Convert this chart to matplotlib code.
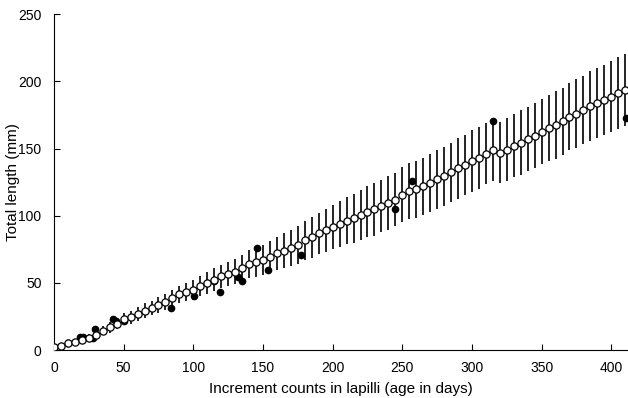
import numpy as np
import matplotlib
matplotlib.use('Agg')
import matplotlib.pyplot as plt

plt.rcParams['font.family'] = ['Liberation Sans', 'DejaVu Sans']

# model back-calculated growth: age (days), mean length (mm), half range of bar (mm)
age_model = np.arange(0, 411, 5)
mean_len = [2.5, 3.2, 5.0, 6.0, 7.4, 8.7, 11.4, 14.4, 16.9, 19.6,
            22.8, 24.3, 26.8, 29.2, 31.3, 33.5, 35.9, 38.5, 41.4, 43.2,
            44.6, 47.5, 49.8, 52.5, 54.8, 56.8, 58.3, 61.0, 64.0, 65.7,
            67.0, 69.4, 71.9, 73.9, 76.1, 78.1, 81.8, 83.8, 86.8, 89.3,
            91.7, 93.8, 96.2, 98.0, 100.4, 102.9, 104.7, 107.2, 109.6, 112.0,
            115.5, 118.4, 119.6, 121.8, 124.5, 127.0, 129.5, 132.4, 135.2, 137.9,
            140.9, 143.1, 146.3, 149.0, 147.0, 149.3, 152.0, 154.5, 157.0, 159.7,
            162.7, 165.2, 167.6, 170.4, 173.6, 176.1, 178.8, 181.8, 184.0, 186.0,
            188.5, 191.4, 193.5]
half_bar = [1.0, 1.5, 2.0, 2.0, 2.5, 3.0, 3.5, 3.5, 4.0, 4.0,
            4.5, 5.0, 5.0, 5.5, 5.5, 6.0, 6.0, 6.0, 6.5, 7.0,
            7.5, 7.5, 8.0, 8.5, 8.5, 9.0, 9.5, 10.0, 10.5, 11.0,
            11.5, 12.0, 12.5, 13.0, 13.5, 14.0, 14.5, 15.0, 15.5, 16.0,
            16.5, 17.0, 17.5, 18.0, 18.5, 19.0, 19.5, 19.5, 20.0, 20.0,
            20.5, 21.0, 21.0, 21.5, 21.5, 22.0, 22.0, 22.0, 22.5, 22.5,
            23.0, 23.0, 23.0, 23.0, 23.0, 23.5, 23.5, 24.0, 24.0, 24.0,
            24.5, 24.5, 25.0, 25.0, 25.0, 25.5, 25.5, 26.0, 26.0, 26.0,
            26.5, 26.5, 27.0]

# observed fish
age_obs = [10, 18.6, 20.5, 28.2, 29.4, 42.5, 44.5, 50.4, 84.2, 100.7,
           109.5, 115, 119, 132, 134.6, 145.8, 153.5, 177, 245, 256.7,
           315, 410.8]
len_obs = [5.0, 9.4, 9.4, 8.7, 15.4, 22.8, 21.8, 21.8, 31.2, 40.2,
           49.6, 51.6, 43.2, 54.5, 51.6, 75.7, 59.8, 70.7, 105.1, 125.7,
           170.6, 172.4]

fig = plt.figure(figsize=(6.28, 3.98), dpi=100)
ax = fig.add_axes([0.086, 0.1206, 0.914, 0.8435])

ax.errorbar(age_model, mean_len, yerr=half_bar, fmt='none', ecolor='black',
            elinewidth=1.2, capsize=0, zorder=2)
ax.plot(age_obs, len_obs, 'o', color='black', markersize=4.5, zorder=3)
ax.plot(age_model, mean_len, 'o', markerfacecolor='white', markeredgecolor='black',
        markeredgewidth=0.9, markersize=5.2, zorder=4)

ax.set_xlim(0, 412)
ax.set_ylim(0, 250)
ax.set_xticks(np.arange(0, 401, 50))
ax.set_yticks(np.arange(0, 251, 50))
ax.spines['top'].set_visible(False)
ax.spines['right'].set_visible(False)
ax.tick_params(direction='in', length=4, width=0.8, labelsize=10)
ax.tick_params(axis='y', pad=9)
ax.tick_params(axis='x', pad=8)

ax.set_xlabel('Increment counts in lapilli (age in days)', fontsize=11)
ax.set_ylabel('Total length (mm)', fontsize=11)
ax.yaxis.set_label_coords(-0.06, 0.5)
ax.xaxis.set_label_coords(0.5, -0.095)

fig.savefig('out.png', dpi=100)
